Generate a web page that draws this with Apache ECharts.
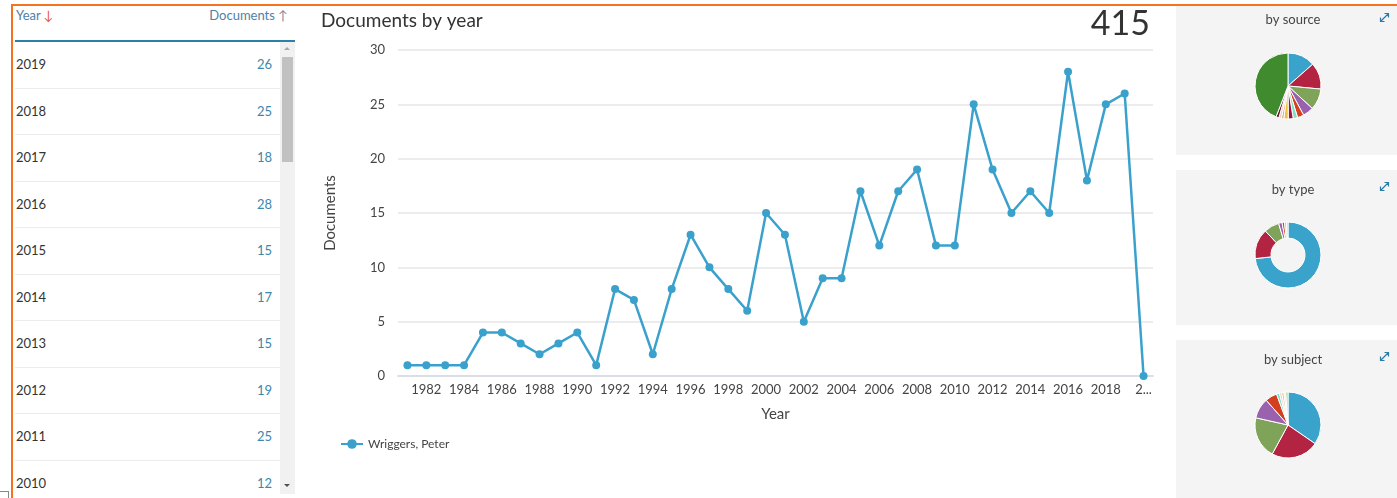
<!DOCTYPE html>
<html>
<head>
<meta charset="utf-8">
<script src="https://cdn.jsdelivr.net/npm/echarts@6/dist/echarts.min.js"></script>
<style>
  body { margin: 0; width: 1397px; height: 498px; overflow: hidden; background: #fff; position: relative; font-family: Lato, "Open Sans", sans-serif; }
  .frame { position: absolute; left: 11px; top: 4px; width: 1400px; height: 500px; border-top: 2px solid #f5731e; border-left: 2px solid #f5731e; }
  .corner { position: absolute; left: -4px; top: 491px; width: 12px; height: 8px; border-top: 1px solid #888; border-right: 1px solid #888; }
  .panel { position: absolute; left: 1176px; width: 221px; background: #f4f4f4; }
  .expand { position: absolute; left: 1379px; width: 11px; height: 11px; }
  #tbl .hy { position: absolute; left: 16px; top: 7px; font-size: 13px; color: #4f81a3; }
  #tbl .hdoc { position: absolute; left: 0; width: 288px; top: 7px; text-align: right; font-size: 13px; color: #4f81a3; }
  #tbl .dn { color: #e8554a; }
  #tbl .up { color: #7c8f9c; }
  #tbl .line { position: absolute; left: 15px; top: 40px; width: 280px; height: 2px; background: #2f7fa8; }
  #rows { position: absolute; left: 15px; top: 42px; width: 265px; height: 452px; overflow: hidden; }
  .row { height: 45.5px; line-height: 45px; border-bottom: 1px solid #ececec; font-size: 13px; position: relative; }
  .row .y { position: absolute; left: 1px; color: #333; }
  .row .v { position: absolute; right: 8px; color: #3d87aa; }
  .sb { position: absolute; left: 280px; top: 42px; width: 15px; height: 452px; background: #f1f1f1; }
  .thumb { position: absolute; left: 282px; top: 57px; width: 11px; height: 105px; background: #c1c1c1; }
  .arr { position: absolute; left: 284px; width: 0; height: 0; border-left: 3px solid transparent; border-right: 3px solid transparent; }
  #chart { position: absolute; left: 0; top: 0; width: 1397px; height: 498px; }
</style>
</head>
<body>
<div class="panel" style="top:6px;height:149px"></div>
<div class="panel" style="top:170px;height:155px"></div>
<div class="panel" style="top:340px;height:158px"></div>

<div id="tbl">
  <div class="hy">Year <span class="dn">↓</span></div>
  <div class="hdoc">Documents <span class="up">↑</span></div>
  <div class="line"></div>
  <div id="rows"></div>
  <div class="sb"></div>
  <div class="thumb"></div>
  <div class="arr" style="top:47px;border-bottom:3px solid #a8a8a8"></div>
  <div class="arr" style="top:484px;border-top:3px solid #505050"></div>
</div>

<svg class="expand" style="top:12px" viewBox="0 0 11 11"><path d="M1.5 9.5 L9.5 1.5 M5.5 1.5 H9.5 V5.5 M1.5 5.5 V9.5 H5.5" stroke="#2d7ca8" stroke-width="1.2" fill="none"/></svg>
<svg class="expand" style="top:181px" viewBox="0 0 11 11"><path d="M1.5 9.5 L9.5 1.5 M5.5 1.5 H9.5 V5.5 M1.5 5.5 V9.5 H5.5" stroke="#2d7ca8" stroke-width="1.2" fill="none"/></svg>
<svg class="expand" style="top:351px" viewBox="0 0 11 11"><path d="M1.5 9.5 L9.5 1.5 M5.5 1.5 H9.5 V5.5 M1.5 5.5 V9.5 H5.5" stroke="#2d7ca8" stroke-width="1.2" fill="none"/></svg>

<div id="chart"></div>
<div class="frame"></div>
<div class="corner"></div>

<script>
// documents per year
const years = ['1981', '1982', '1983', '1984', '1985', '1986', '1987', '1988', '1989', '1990',
  '1991', '1992', '1993', '1994', '1995', '1996', '1997', '1998', '1999', '2000',
  '2001', '2002', '2003', '2004', '2005', '2006', '2007', '2008', '2009', '2010',
  '2011', '2012', '2013', '2014', '2015', '2016', '2017', '2018', '2019', '2020'];
const documents = [1, 1, 1, 1, 4, 4, 3, 2, 3, 4,
  1, 8, 7, 2, 8, 13, 10, 8, 6, 15,
  13, 5, 9, 9, 17, 12, 17, 19, 12, 12,
  25, 19, 15, 17, 15, 28, 18, 25, 26, 0];
const totalDocuments = 415;
const authorName = 'Wriggers, Peter';

// small pies (values estimated from the slices)
const sourceValues = [56, 54, 43, 22, 13, 9, 10, 9, 5, 5, 6, 183];
const typeValues = [304, 61, 31, 7, 5, 4, 3];
const subjectValues = [190, 128, 113, 55, 32, 8, 6, 6, 5, 6];

const sourceColors = ['#3aa3cb', '#b32443', '#80a35a', '#9a62ae', '#d3401f', '#7ddfc7', '#a3123a', '#e8c441', '#f0a16c', '#f4c6c6', '#6b1632', '#3f8b2e'];
const typeColors = ['#3aa3cb', '#b32443', '#80a35a', '#9a62ae', '#d3401f', '#7ddfc7', '#e8c441'];
const subjectColors = ['#3aa3cb', '#b32443', '#80a35a', '#9a62ae', '#d3401f', '#7ddfc7', '#f4c6c6', '#f0b38a', '#ece4c8', '#a8cf8c'];

// table, newest first
const rowsEl = document.getElementById('rows');
let html = '';
for (let i = years.length - 2; i >= 0; i--) {
  html += '<div class="row"><span class="y">' + years[i] + '</span><span class="v">' + documents[i] + '</span></div>';
}
rowsEl.innerHTML = html;

const font = 'Lato, "Open Sans", sans-serif';

function pieSeries(values, colors, center, radius) {
  return {
    type: 'pie',
    center: center,
    radius: radius,
    startAngle: 90,
    silent: true,
    label: { show: false },
    labelLine: { show: false },
    itemStyle: { borderColor: '#fff', borderWidth: 1 },
    data: values.map((v, i) => ({ value: v, itemStyle: { color: colors[i] } }))
  };
}

const chart = echarts.init(document.getElementById('chart'));
chart.setOption({
  animation: false,
  textStyle: { fontFamily: font },
  title: [
    { text: 'Documents by year', left: 316, top: 6, textStyle: { fontFamily: font, fontSize: 19, fontWeight: 'normal', color: '#333' } },
    { text: String(totalDocuments), right: 242, top: 2, textStyle: { fontFamily: font, fontSize: 34, fontWeight: 'normal', color: '#333' } },
    { text: 'by source', left: 1288, top: 8, textAlign: 'center', textStyle: { fontFamily: font, fontSize: 13, fontWeight: 'normal', color: '#444' } },
    { text: 'by type', left: 1288, top: 178, textAlign: 'center', textStyle: { fontFamily: font, fontSize: 13, fontWeight: 'normal', color: '#444' } },
    { text: 'by subject', left: 1288, top: 348, textAlign: 'center', textStyle: { fontFamily: font, fontSize: 13, fontWeight: 'normal', color: '#444' } }
  ],
  legend: {
    left: 335,
    top: 433,
    itemWidth: 22,
    itemHeight: 12,
    itemGap: 4,
    textStyle: { fontFamily: font, fontSize: 12, color: '#444' },
    data: [authorName]
  },
  grid: { left: 398, right: 244, top: 50, bottom: 122 },
  xAxis: {
    type: 'category',
    data: years,
    boundaryGap: true,
    name: 'Year',
    nameLocation: 'middle',
    nameGap: 31,
    nameTextStyle: { fontFamily: font, fontSize: 15, color: '#444' },
    axisLine: { lineStyle: { color: '#dcdce4', width: 2 } },
    axisTick: { show: false },
    axisLabel: {
      interval: (idx) => idx % 2 === 1,
      margin: 7,
      fontSize: 13,
      color: '#444',
      formatter: (v) => (v === '2020' ? '2...' : v)
    }
  },
  yAxis: {
    type: 'value',
    min: 0,
    max: 30,
    interval: 5,
    name: 'Documents',
    nameLocation: 'middle',
    nameGap: 60,
    nameTextStyle: { fontFamily: font, fontSize: 15, color: '#444' },
    axisLine: { show: false },
    axisTick: { show: false },
    axisLabel: { margin: 13, fontSize: 13, color: '#444' },
    splitLine: { lineStyle: { color: '#e6e6e6', width: 1.5 } }
  },
  series: [
    {
      name: authorName,
      type: 'line',
      data: documents,
      symbol: 'circle',
      symbolSize: 8,
      color: '#3aa1cd',
      lineStyle: { width: 2.5, color: '#3aa1cd' },
      itemStyle: { color: '#3aa1cd' }
    },
    pieSeries(sourceValues, sourceColors, [1288, 86], [0, 33]),
    pieSeries(typeValues, typeColors, [1288, 255], [17, 33]),
    pieSeries(subjectValues, subjectColors, [1288, 425], [0, 33])
  ]
});
</script>
</body>
</html>
